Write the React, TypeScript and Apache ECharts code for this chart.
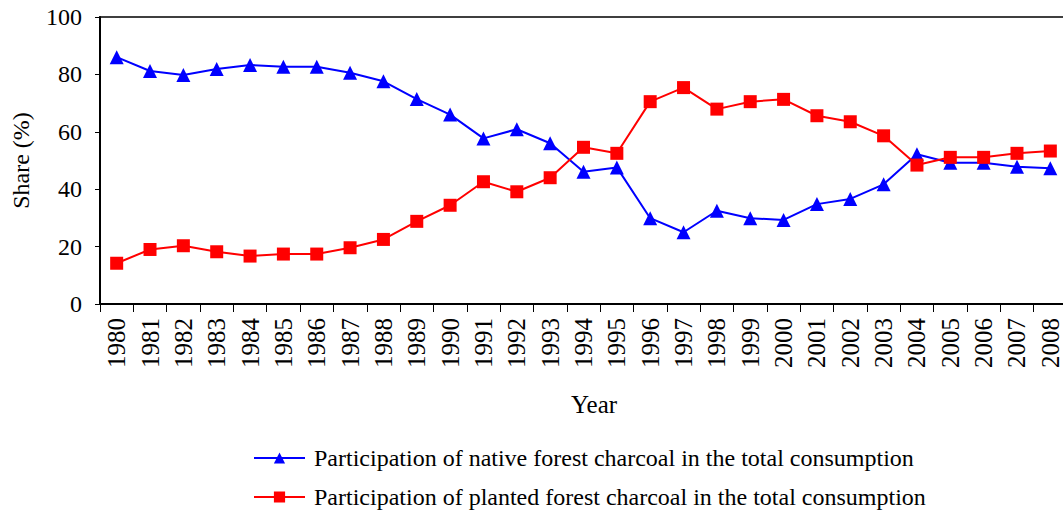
import React, { useEffect, useRef } from "react";
import * as echarts from "echarts";

const years = [
  "1980", "1981", "1982", "1983", "1984", "1985", "1986", "1987", "1988", "1989",
  "1990", "1991", "1992", "1993", "1994", "1995", "1996", "1997", "1998", "1999",
  "2000", "2001", "2002", "2003", "2004", "2005", "2006", "2007", "2008",
];

const nativeShare = [
  86.0, 81.2, 79.8, 81.9, 83.3, 82.7, 82.7, 80.6, 77.6, 71.4,
  66.0, 57.7, 60.9, 56.0, 46.1, 47.6, 29.9, 25.0, 32.5, 29.9,
  29.3, 34.8, 36.6, 41.7, 52.2, 49.2, 49.2, 47.8, 47.3,
];

const plantedShare = [
  14.2, 19.0, 20.3, 18.2, 16.7, 17.4, 17.4, 19.6, 22.5, 28.8,
  34.4, 42.6, 39.1, 44.0, 54.6, 52.5, 70.5, 75.4, 67.9, 70.5,
  71.3, 65.6, 63.5, 58.6, 48.4, 51.1, 51.1, 52.5, 53.3,
];

const nativeName = "Participation of native forest charcoal in the total consumption";
const plantedName = "Participation of planted forest charcoal in the total consumption";

const FONT = "Liberation Serif";

export default function App() {
  const ref = useRef<HTMLDivElement>(null);

  useEffect(() => {
    if (!ref.current) return;
    const chart = echarts.init(ref.current, undefined, { renderer: "svg" });
    chart.setOption({
      animation: false,
      backgroundColor: "#ffffff",
      textStyle: { fontFamily: FONT, color: "#000" },
      grid: {
        left: 100,
        top: 17,
        width: 967,
        height: 287,
        outerBoundsMode: "none",
        containLabel: false,
        show: true,
        borderColor: "#000",
        borderWidth: 1.5,
        backgroundColor: "transparent",
      },
      legend: {
        orient: "vertical",
        left: 253,
        top: 446,
        padding: 0,
        height: 64,
        itemWidth: 51,
        itemHeight: 14,
        itemGap: 15,
        textStyle: {
          fontFamily: FONT,
          fontSize: 24,
          color: "#000",
          padding: [0, 0, 0, 4],
        },
        data: [nativeName, plantedName],
      },
      xAxis: {
        type: "category",
        data: years,
        boundaryGap: true,
        axisLine: { show: true, lineStyle: { color: "#000", width: 2 } },
        axisTick: { show: true, length: 8, lineStyle: { color: "#000", width: 1 } },
        axisLabel: {
          rotate: 90,
          interval: 0,
          margin: 14,
          fontSize: 25,
          fontFamily: FONT,
          color: "#000",
        },
        splitLine: { show: false },
      },
      yAxis: {
        type: "value",
        min: 0,
        max: 100,
        interval: 20,
        name: "Share (%)",
        nameLocation: "middle",
        nameGap: 67,
        nameTextStyle: { fontSize: 24, fontFamily: FONT, color: "#000" },
        axisLine: { show: true, lineStyle: { color: "#000", width: 2 } },
        axisTick: { show: true, length: 5, lineStyle: { color: "#000", width: 1 } },
        axisLabel: { margin: 18, fontSize: 24, fontFamily: FONT, color: "#000" },
        splitLine: { show: false },
      },
      graphic: [
        {
          type: "text",
          x: 571,
          y: 404,
          style: {
            text: "Year",
            fontSize: 25,
            fontFamily: FONT,
            fill: "#000",
            align: "left",
            verticalAlign: "middle",
          },
        },
      ],
      series: [
        {
          name: nativeName,
          type: "line",
          data: nativeShare,
          symbol: "triangle",
          symbolSize: 14,
          lineStyle: { color: "#0000ff", width: 2 },
          itemStyle: { color: "#0000ff" },
        },
        {
          name: plantedName,
          type: "line",
          data: plantedShare,
          symbol: "rect",
          symbolSize: 13,
          lineStyle: { color: "#ff0000", width: 2 },
          itemStyle: { color: "#ff0000" },
        },
      ],
    });
    return () => chart.dispose();
  }, []);

  return (
    <div
      ref={ref}
      style={{ position: "fixed", left: 0, top: 0, width: 1063, height: 510 }}
    />
  );
}
